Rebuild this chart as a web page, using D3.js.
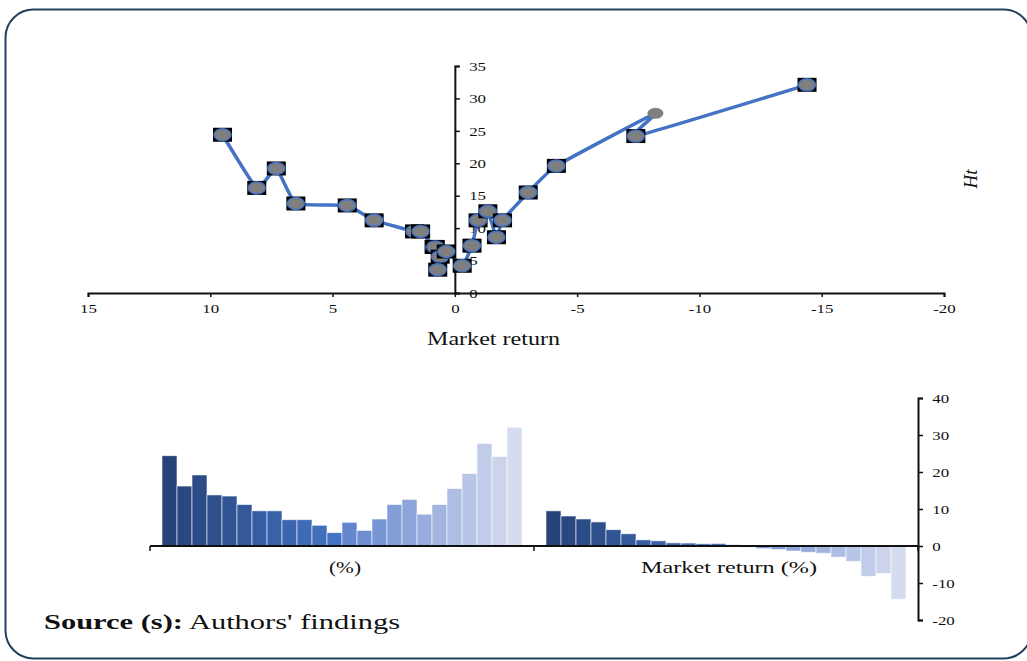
<!DOCTYPE html>
<html>
<head>
<meta charset="utf-8">
<script src="https://cdn.jsdelivr.net/npm/d3@7"></script>
<style>
  html, body { margin: 0; padding: 0; background: #fff; }
  svg { display: block; }
  text { font-family: "Liberation Serif", "Times New Roman", serif; fill: #111; }
</style>
</head>
<body>
<svg id="chart" width="1027" height="661"></svg>
<script>
// ---- data ----
const marketReturn = [9.5, 8.1, 7.3, 6.5, 4.4, 3.3, 1.65, 1.4, 0.85, 0.8, 0.6, 0.7, 0.35, -0.3, -0.7, -0.95, -1.35, -1.7, -1.95, -3.0, -4.15, -8.2, -7.4, -14.4];
const ht = [24.4, 16.2, 19.2, 13.8, 13.5, 11.2, 9.5, 9.5, 7.1, 7.1, 5.6, 3.6, 6.4, 4.2, 7.3, 11.2, 12.6, 8.6, 11.2, 15.5, 19.6, 27.7, 24.2, 32.1];
const topXTicks = [15, 10, 5, 0, -5, -10, -15, -20];
const topYTicks = [0, 5, 10, 15, 20, 25, 30, 35];
const bottomCategories = ["(%)", "Market return (%)"];
const bottomYTicks = [-20, -10, 0, 10, 20, 30, 40];
const plainMarkerIndex = [21];

const svg = d3.select("#chart");
const TICK_FS = 13, STRETCH = 1.3;

function styleAxis(g) {
  g.select(".domain").attr("stroke", "#111").attr("stroke-width", 2);
  g.selectAll(".tick line").attr("stroke", "#111").attr("stroke-width", 1.5);
  g.selectAll("text").attr("font-size", TICK_FS).attr("font-family", "Liberation Serif")
    .attr("fill", "#111").attr("transform", `scale(${STRETCH},1)`);
}

// frame
svg.append("rect")
  .attr("x", 5.5).attr("y", 9.5).attr("width", 1026).attr("height", 649)
  .attr("rx", 28).attr("ry", 28)
  .attr("fill", "none").attr("stroke", "#22405e").attr("stroke-width", 2);

// ---- top scatter ----
const x = d3.scaleLinear().domain([15, -20]).range([88, 944]);
const y = d3.scaleLinear().domain([0, 35]).range([293, 66]);

const xAxis = svg.append("g").attr("transform", "translate(0,293)")
  .call(d3.axisBottom(x).tickValues(topXTicks).tickSize(4).tickPadding(7).tickFormat(d => String(d)));
styleAxis(xAxis);

const yAxis = svg.append("g").attr("transform", `translate(${x(0)},0)`)
  .call(d3.axisRight(y).tickValues(topYTicks).tickSize(5).tickPadding(6).tickFormat(d => String(d)));
styleAxis(yAxis);

const pts = marketReturn.map((m, i) => [m, ht[i]]);
svg.append("path")
  .datum(pts)
  .attr("fill", "none")
  .attr("stroke", "#4472C4")
  .attr("stroke-width", 3.5)
  .attr("stroke-linejoin", "round")
  .attr("d", d3.line().x(d => x(d[0])).y(d => y(d[1])).curve(d3.curveCardinal.tension(0.6)));

const mk = svg.append("g");
pts.forEach((d, i) => {
  const cx = x(d[0]), cy = y(d[1]);
  if (plainMarkerIndex.includes(i)) {
    mk.append("ellipse").attr("cx", cx).attr("cy", cy).attr("rx", 8).attr("ry", 5.5).attr("fill", "#7f7f7f");
    return;
  }
  mk.append("rect").attr("x", cx - 9.5).attr("y", cy - 7).attr("width", 19).attr("height", 14).attr("fill", "#000");
  mk.append("ellipse").attr("cx", cx).attr("cy", cy).attr("rx", 8.5).attr("ry", 6)
    .attr("fill", "#7f7f7f").attr("stroke", "#4472C4").attr("stroke-width", 1.5);
});

svg.append("text").attr("x", 427).attr("y", 345)
  .attr("font-size", 19).attr("textLength", 133).attr("lengthAdjust", "spacingAndGlyphs")
  .text("Market return");

svg.append("text").attr("transform", "translate(977,179) rotate(-90)")
  .attr("text-anchor", "middle").attr("font-size", 19).attr("font-style", "italic")
  .attr("font-family", "DejaVu Serif").text("Ht");

// ---- bottom bars ----
const yb = d3.scaleLinear().domain([-20, 40]).range([620, 398]);
const xb = d3.scaleBand().domain(bottomCategories).range([150, 918]);
const xs = d3.scaleBand().domain(d3.range(ht.length)).range([12, xb.bandwidth() - 12]);

const c1 = d3.interpolateRgb("#264478", "#4472C4");
const c2 = d3.interpolateRgb("#6486CE", "#D6DCEF");
const n = ht.length, half = n / 2;
const barColor = i => i < half ? c1(i / (half - 1)) : c2((i - half) / (half - 1));

const groups = [ht, marketReturn];
bottomCategories.forEach((cat, ci) => {
  const g = svg.append("g").attr("transform", `translate(${xb(cat)},0)`);
  g.selectAll("rect").data(groups[ci]).join("rect")
    .attr("x", (d, i) => xs(i))
    .attr("width", xs.bandwidth())
    .attr("y", d => yb(Math.max(0, d)))
    .attr("height", d => Math.abs(yb(d) - yb(0)))
    .attr("fill", (d, i) => barColor(i))
    .attr("stroke", "#ffffff").attr("stroke-width", 0.8).attr("stroke-opacity", 0.7);
});

// bottom x axis
const xbAxis = svg.append("g").attr("transform", `translate(0,${yb(0)})`);
xbAxis.append("line").attr("x1", 150).attr("x2", 918).attr("stroke", "#111").attr("stroke-width", 2);
const bTicks = [xb(bottomCategories[0]), xb(bottomCategories[1]), xb(bottomCategories[1]) + xb.bandwidth()];
xbAxis.selectAll(".bt").data(bTicks).join("line")
  .attr("x1", d => d).attr("x2", d => d).attr("y1", 0).attr("y2", 5)
  .attr("stroke", "#111").attr("stroke-width", 1.5);
const catWidths = [32, 176];
bottomCategories.forEach((cat, ci) => {
  const cx = xb(cat) + xb.bandwidth() / 2 + 3;
  svg.append("text").attr("x", cx - catWidths[ci] / 2).attr("y", 573)
    .attr("font-size", 17).attr("textLength", catWidths[ci]).attr("lengthAdjust", "spacingAndGlyphs")
    .text(cat);
});

const ybAxis = svg.append("g").attr("transform", "translate(918,0)")
  .call(d3.axisRight(yb).tickValues(bottomYTicks).tickSize(5).tickPadding(6).tickFormat(d => String(d)));
styleAxis(ybAxis);

// source
const src = svg.append("text").attr("x", 44).attr("y", 629).attr("font-size", 22)
  .attr("textLength", 356).attr("lengthAdjust", "spacingAndGlyphs");
src.append("tspan").attr("font-weight", "bold").text("Source (s):");
src.append("tspan").text(" Authors' findings");
</script>
</body>
</html>
